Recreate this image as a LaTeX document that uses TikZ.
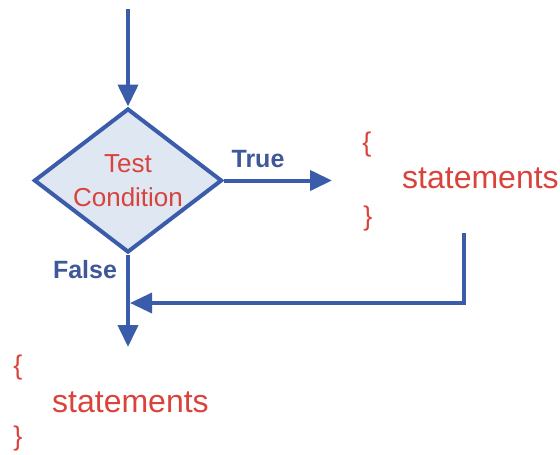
\documentclass[tikz,border=0pt]{standalone}
\usepackage{fontspec}
\setmainfont{Liberation Sans}
\usepackage{tikz}
\usetikzlibrary{arrows.meta, shapes.geometric}
\definecolor{lineblue}{RGB}{59,92,170}
\definecolor{lblblue}{RGB}{62,88,152}
\definecolor{txtred}{RGB}{217,67,59}
\definecolor{fillblue}{RGB}{222,231,242}

\begin{document}
\begin{tikzpicture}[x=1pt, y=-1pt,
  flow/.style={lineblue, line width=4pt, -{Triangle[length=22pt,width=20pt]}},
  test/.style={diamond, aspect=1.3, draw=lineblue, fill=fillblue, line width=4pt, minimum width=188pt, minimum height=144pt, inner sep=0pt, align=center, text=txtred, font=\fontsize{26}{34}\selectfont},
  lbl/.style={text=lblblue, font=\fontsize{25}{30}\selectfont\bfseries, inner sep=0pt},
  stmt/.style={text=txtred, font=\fontsize{32}{38}\selectfont, inner sep=0pt},
  brace/.style={text=txtred, font=\fontsize{27}{30}\selectfont, inner sep=0pt}]
\useasboundingbox (0,0) rectangle (560,455);
\node[test] (cond) at (128,180.5) {Test\\Condition};
\coordinate (start) at (128,9);
\coordinate (truetip) at (332,180.5);
\coordinate (loopstart) at (464,233);
\coordinate (join) at (130,303);
\coordinate (falsetip) at (128,347);
% true branch
\node[brace] (open1) at (367,145) {\{};
\node[stmt, anchor=base west] (stmt1) at (402,188) {statements};
\node[brace] (close1) at (368,219) {\}};
% false branch
\node[brace] (open2) at (18,368) {\{};
\node[stmt, anchor=base west] (stmt2) at (52,412) {statements};
\node[brace] (close2) at (18,439) {\}};
\node[lbl] (truelbl) at (258,159) {True};
\node[lbl] (falselbl) at (85,270) {False};
\draw[flow] (start) -- (cond.north);
\draw[flow] (cond.east) -- (truetip);
\draw[flow, line width=3.5pt] (loopstart) |- (join);
\draw[flow] (cond.south) -- (falsetip);
\end{tikzpicture}
\end{document}
